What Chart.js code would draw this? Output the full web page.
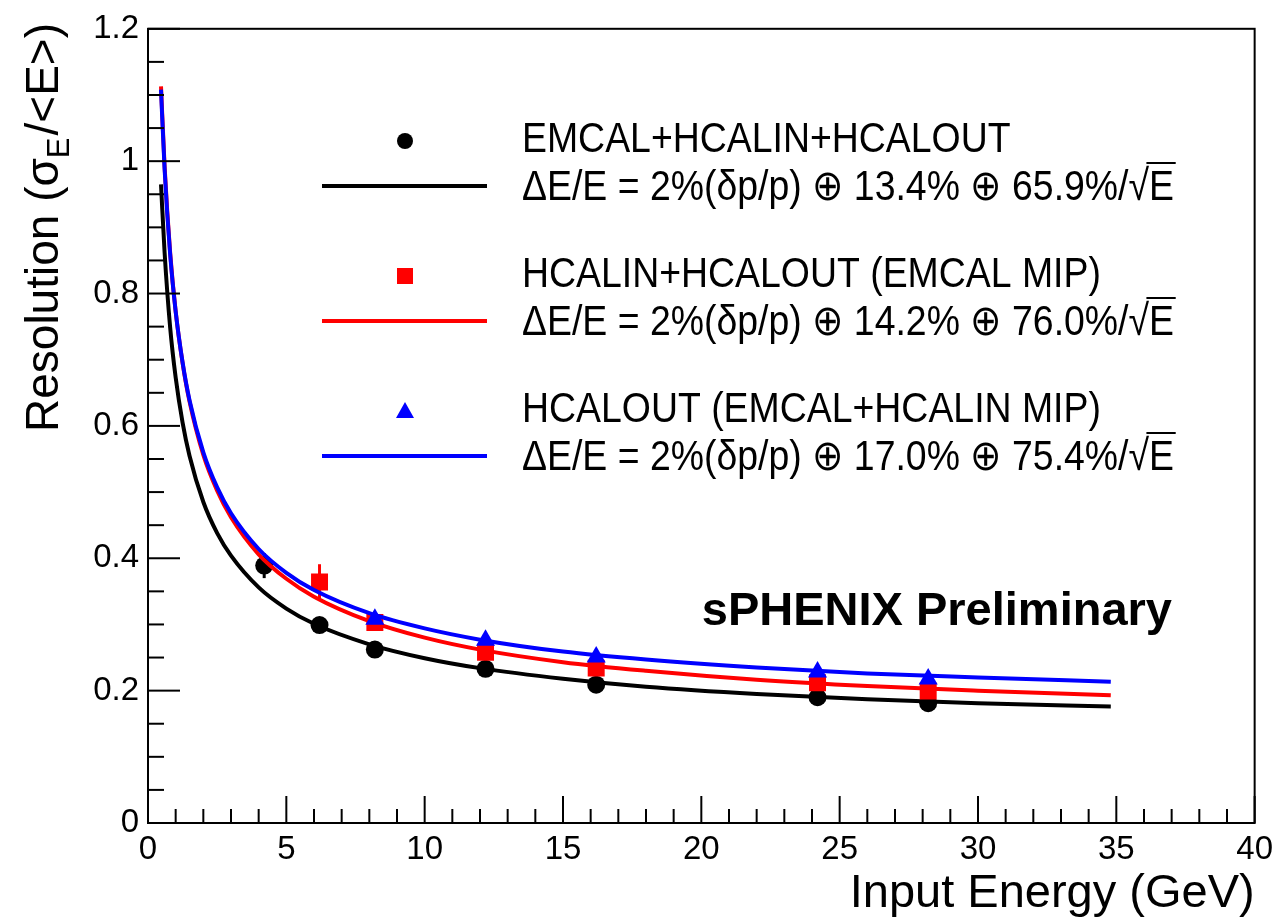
<!DOCTYPE html>
<html>
<head>
<meta charset="utf-8">
<script src="https://cdn.jsdelivr.net/npm/chart.js@4/dist/chart.umd.min.js"></script>
<style>
  html, body { margin: 0; padding: 0; background: #fff; }
  canvas { display: block; }
</style>
</head>
<body>
<canvas id="myChart" width="1280" height="921"></canvas>
<script>
// beam energies of the measured points (GeV)
const energies = [4.2, 6.2, 8.2, 12.2, 16.2, 24.2, 28.2];
const blackRes = [0.389, 0.299, 0.262, 0.233, 0.209, 0.190, 0.181];
const blackErr = [0.019, 0.006, 0.005, 0.004, 0.004, 0.004, 0.004];
const redE = [6.2, 8.2, 12.2, 16.2, 24.2, 28.2];
const redRes = [0.364, 0.303, 0.258, 0.234, 0.212, 0.1995];
const redErr = [0.027, 0.006, 0.005, 0.005, 0.005, 0.005];
const blueE = [8.2, 12.2, 16.2, 24.2, 28.2];
const blueRes = [0.308, 0.276, 0.251, 0.228, 0.2175];
const blueErr = [0.005, 0.005, 0.005, 0.005, 0.005];

// fit curves
const curveE = [0.47, 0.6, 0.8, 1, 1.25, 1.5, 2, 2.5, 3, 4, 5, 6, 8, 10, 12, 15, 18, 22, 26, 30, 34.8];
const blackFit = [0.965, 0.862, 0.749, 0.673, 0.605, 0.555, 0.485, 0.438, 0.404, 0.356, 0.324, 0.301, 0.270, 0.249, 0.234, 0.218, 0.206, 0.195, 0.187, 0.181, 0.176];
const redFit = [1.113, 0.992, 0.862, 0.773, 0.695, 0.637, 0.556, 0.502, 0.462, 0.406, 0.369, 0.342, 0.305, 0.280, 0.262, 0.243, 0.230, 0.2165, 0.207, 0.200, 0.193];
const blueFit = [1.108, 0.988, 0.860, 0.773, 0.696, 0.639, 0.560, 0.507, 0.468, 0.414, 0.378, 0.352, 0.317, 0.294, 0.277, 0.259, 0.247, 0.235, 0.226, 0.220, 0.2136];

const legendNames = ['EMCAL+HCALIN+HCALOUT', 'HCALIN+HCALOUT (EMCAL MIP)', 'HCALOUT (EMCAL+HCALIN MIP)'];
const legendFits = ['ΔE/E = 2%(δp/p) ⊕ 13.4% ⊕ 65.9%/√E', 'ΔE/E = 2%(δp/p) ⊕ 14.2% ⊕ 76.0%/√E', 'ΔE/E = 2%(δp/p) ⊕ 17.0% ⊕ 75.4%/√E'];
const colors = ['#000000', '#ff0000', '#0000ff'];
const markers = ['circle', 'rect', 'triangle'];

const FONT = '"Liberation Sans", Arial, Helvetica, sans-serif';

const pts = (xs, ys) => xs.map((x, i) => ({ x: x, y: ys[i] }));

const fitSet = (xs, ys, color, order) => ({
  data: pts(xs, ys), showLine: true, borderColor: color, borderWidth: 4,
  pointRadius: 0, cubicInterpolationMode: 'monotone', order: order
});
const markerSize = { circle: 9, rect: 12, triangle: 11 };
const pointSet = (xs, ys, errs, color, style, order) => ({
  data: pts(xs, ys), showLine: false, errors: errs, pointStyle: style,
  pointRadius: markerSize[style], backgroundColor: color, borderColor: color,
  borderWidth: 0, order: order
});

// error bars, inward ticks, frame, titles, legend
const rootStyle = {
  id: 'rootStyle',
  beforeDatasetsDraw(chart) {
    const ctx = chart.ctx, xs = chart.scales.x, ys = chart.scales.y;
    ctx.save();
    ctx.lineWidth = 3;
    chart.data.datasets.forEach(ds => {
      if (!ds.errors) return;
      ctx.strokeStyle = ds.borderColor;
      ds.data.forEach((p, i) => {
        const px = xs.getPixelForValue(p.x);
        ctx.beginPath();
        ctx.moveTo(px, ys.getPixelForValue(p.y - ds.errors[i]));
        ctx.lineTo(px, ys.getPixelForValue(p.y + ds.errors[i]));
        ctx.stroke();
      });
    });
    ctx.restore();
  },
  afterDraw(chart) {
    const ctx = chart.ctx, a = chart.chartArea, xs = chart.scales.x, ys = chart.scales.y;
    ctx.save();
    ctx.strokeStyle = '#000';
    ctx.lineWidth = 2;
    ctx.strokeRect(a.left, a.top, a.right - a.left, a.bottom - a.top);
    for (let v = 0; v <= 40; v++) {
      const px = xs.getPixelForValue(v), len = v % 5 === 0 ? 27 : 14;
      ctx.beginPath(); ctx.moveTo(px, a.bottom); ctx.lineTo(px, a.bottom - len); ctx.stroke();
    }
    for (let i = 0; i <= 24; i++) {
      const py = ys.getPixelForValue(i * 0.05), len = i % 4 === 0 ? 32 : 16;
      ctx.beginPath(); ctx.moveTo(a.left, py); ctx.lineTo(a.left + len, py); ctx.stroke();
    }

    ctx.fillStyle = '#000';
    ctx.textBaseline = 'alphabetic';
    // x title
    ctx.font = '47px ' + FONT;
    ctx.textAlign = 'right';
    ctx.fillText('Input Energy (GeV)', a.right, 907);
    // y title with subscript
    ctx.save();
    ctx.translate(58, 432);
    ctx.rotate(-Math.PI / 2);
    ctx.textAlign = 'left';
    let x = 0;
    ctx.font = '46px ' + FONT;
    ctx.fillText('Resolution (σ', x, 0);
    x += ctx.measureText('Resolution (σ').width;
    ctx.font = '31px ' + FONT;
    ctx.fillText('E', x, 11);
    x += ctx.measureText('E').width + 2;
    ctx.font = '46px ' + FONT;
    ctx.fillText('/<E>)', x, 0);
    ctx.restore();

    // sPHENIX label
    ctx.font = 'bold 47px ' + FONT;
    ctx.textAlign = 'right';
    ctx.fillText('sPHENIX Preliminary', 1172, 625);

    // legend
    const sx = 0.87, tx = 522, size = 43;
    legendNames.forEach((name, k) => {
      const y0 = 152 + k * 135, y1 = y0 + 48;
      const c = colors[k];
      ctx.fillStyle = c; ctx.strokeStyle = c;
      const my = y0 - 11;
      if (markers[k] === 'circle') {
        ctx.beginPath(); ctx.arc(405, my, 8, 0, Math.PI * 2); ctx.fill();
      } else if (markers[k] === 'rect') {
        ctx.fillRect(397, my - 8, 16, 16);
      } else {
        ctx.beginPath(); ctx.moveTo(405, my - 9); ctx.lineTo(414, my + 7); ctx.lineTo(396, my + 7); ctx.closePath(); ctx.fill();
      }
      ctx.lineWidth = 4;
      ctx.beginPath(); ctx.moveTo(322, y1 - 14); ctx.lineTo(487, y1 - 14); ctx.stroke();

      ctx.fillStyle = '#000'; ctx.strokeStyle = '#000';
      ctx.font = size + 'px ' + FONT;
      ctx.textAlign = 'left';
      ctx.save();
      ctx.translate(tx, 0);
      ctx.scale(sx, 1);
      ctx.fillText(name, 0, y0);
      const txt = legendFits[k];
      ctx.fillText(txt, 0, y1);
      const wAll = ctx.measureText(txt).width, wE = ctx.measureText('E').width;
      ctx.lineWidth = 2;
      ctx.beginPath();
      ctx.moveTo(wAll - wE - 3, y1 - 37);
      ctx.lineTo(wAll + 2, y1 - 37);
      ctx.stroke();
      ctx.restore();
    });
    ctx.restore();
  }
};

const ctx = document.getElementById('myChart');
const myChart = new Chart(ctx, {
  type: 'scatter',
  data: {
    datasets: [
      fitSet(curveE, blackFit, colors[0], 6),
      pointSet(energies, blackRes, blackErr, colors[0], 'circle', 5),
      fitSet(curveE, redFit, colors[1], 4),
      pointSet(redE, redRes, redErr, colors[1], 'rect', 3),
      fitSet(curveE, blueFit, colors[2], 2),
      pointSet(blueE, blueRes, blueErr, colors[2], 'triangle', 1)
    ]
  },
  options: {
    responsive: false,
    devicePixelRatio: 1,
    animation: false,
    layout: { padding: { left: 0, top: 19, right: 23, bottom: 0 } },
    plugins: { legend: { display: false }, tooltip: { enabled: false } },
    scales: {
      x: {
        type: 'linear', min: 0, max: 40,
        grid: { display: false, drawTicks: false },
        border: { display: false },
        ticks: { stepSize: 5, padding: 7, color: '#000', maxRotation: 0, font: { family: FONT, size: 33 } },
        afterFit: s => { s.height = 98; }
      },
      y: {
        type: 'linear', min: 0, max: 1.2,
        grid: { display: false, drawTicks: false },
        border: { display: false },
        ticks: {
          stepSize: 0.2, padding: 9, color: '#000', font: { family: FONT, size: 33 },
          callback: v => String(Math.round(v * 10) / 10)
        },
        afterFit: s => { s.width = 148; }
      }
    }
  },
  plugins: [rootStyle]
});
</script>
</body>
</html>
